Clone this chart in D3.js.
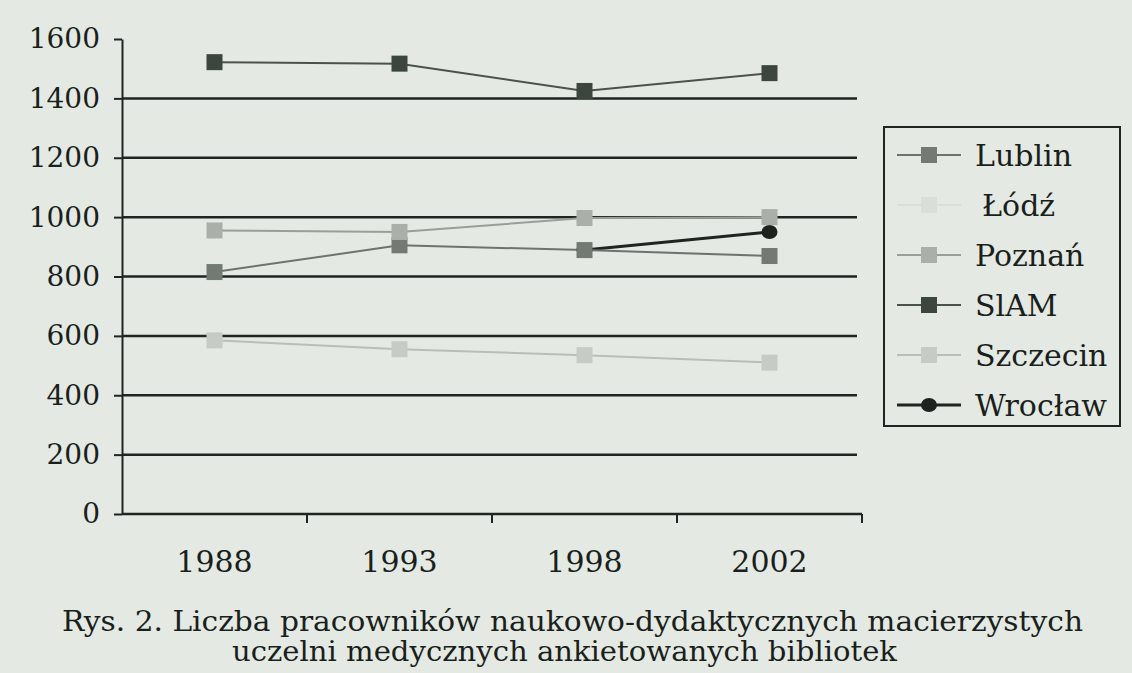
<!DOCTYPE html>
<html>
<head>
<meta charset="utf-8">
<title>Rys. 2</title>
<style>
  body { margin: 0; background: #e4e9e3; }
  svg { display: block; }
</style>
</head>
<body>
<script src="https://d3js.org/d3.v7.min.js"></script>
<script>
// data
var years = ["1988", "1993", "1998", "2002"];
var yTicks = [0, 200, 400, 600, 800, 1000, 1200, 1400, 1600];
var lublin   = [815, 905, 889, 869];
var lodz     = [null, null, null, null];
var poznan   = [955, 950, 997, 1000];
var slam     = [1522, 1517, 1425, 1485];
var szczecin = [585, 555, 535, 510];
var wroclaw  = [null, null, 889, 950];
var caption1 = "Rys. 2. Liczba pracowników naukowo-dydaktycznych macierzystych";
var caption2 = "uczelni medycznych ankietowanych bibliotek";

var series = [
  {name: "Lublin",   values: lublin,   line: "#6d746e", fill: "#737a74", shape: "square", w: 2},
  {name: "Łódź",     values: lodz,     line: "#d9ded8", fill: "#d9ded8", shape: "square", w: 2},
  {name: "Poznań",   values: poznan,   line: "#999e98", fill: "#aaafa9", shape: "square", w: 2},
  {name: "SlAM",     values: slam,     line: "#4a524c", fill: "#3c463f", shape: "square", w: 2},
  {name: "Szczecin", values: szczecin, line: "#b9beb8", fill: "#c7cbc5", shape: "square", w: 2},
  {name: "Wrocław",  values: wroclaw,  line: "#1e2420", fill: "#1c221e", shape: "circle", w: 3}
];

var W = 1132, H = 673;
var font = "DejaVu Serif";
var ink = "#1f2622";

var svg = d3.select("body").append("svg").attr("width", W).attr("height", H);

var x = d3.scaleBand().domain(years).range([122, 862]).padding(0);
var y = d3.scaleLinear().domain([0, 1600]).range([514, 39]);

// horizontal grid lines
svg.append("g").selectAll("line")
  .data(yTicks.filter(function (d) { return d > 0 && d < 1600; }))
  .enter().append("line")
  .attr("x1", 122).attr("x2", 857)
  .attr("y1", function (d) { return y(d); }).attr("y2", function (d) { return y(d); })
  .attr("stroke", ink).attr("stroke-width", 2.5);

// y axis
var yAxis = svg.append("g").attr("transform", "translate(122,0)")
  .call(d3.axisLeft(y).tickValues(yTicks).tickFormat(d3.format("d"))
    .tickSize(8).tickSizeOuter(0).tickPadding(14));
yAxis.select(".domain").attr("stroke", ink).attr("stroke-width", 2);
yAxis.selectAll(".tick line").attr("stroke", ink).attr("stroke-width", 2);
yAxis.selectAll("text").attr("font-family", font).attr("font-size", 28).attr("fill", "#1a1f1c");

// x axis: baseline, boundary ticks, labels at band centres
svg.append("line").attr("x1", 122).attr("x2", 862).attr("y1", y(0)).attr("y2", y(0))
  .attr("stroke", ink).attr("stroke-width", 2.5);
svg.append("g").selectAll("line").data(years).enter().append("line")
  .attr("x1", function (d) { return x(d) + x.step(); })
  .attr("x2", function (d) { return x(d) + x.step(); })
  .attr("y1", y(0)).attr("y2", y(0) + 9)
  .attr("stroke", ink).attr("stroke-width", 2);
var xAxis = svg.append("g").attr("transform", "translate(0," + y(0) + ")")
  .call(d3.axisBottom(x).tickSize(0).tickPadding(37));
xAxis.select(".domain").remove();
xAxis.selectAll("text").attr("font-family", font).attr("font-size", 30).attr("fill", "#1a1f1c");

// series
var cx = function (i) { return x(years[i]) + x.bandwidth() / 2; };
var line = d3.line()
  .defined(function (d) { return d != null; })
  .x(function (d, i) { return cx(i); })
  .y(function (d) { return y(d); });

var order = [5, 0, 2, 3, 4];
order.forEach(function (k) {
  var s = series[k];
  svg.append("path").datum(s.values)
    .attr("d", line).attr("fill", "none")
    .attr("stroke", s.line).attr("stroke-width", s.w);
});
order.forEach(function (k) {
  var s = series[k];
  var pts = s.values.map(function (v, i) { return {v: v, i: i}; })
    .filter(function (p) { return p.v != null; });
  if (s.shape === "circle") {
    svg.append("g").selectAll("ellipse").data(pts).enter().append("ellipse")
      .attr("cx", function (p) { return cx(p.i); }).attr("cy", function (p) { return y(p.v); })
      .attr("rx", 8).attr("ry", 7).attr("fill", s.fill);
  } else {
    svg.append("g").selectAll("rect").data(pts).enter().append("rect")
      .attr("x", function (p) { return cx(p.i) - 8; }).attr("y", function (p) { return y(p.v) - 8; })
      .attr("width", 16).attr("height", 16).attr("fill", s.fill);
  }
});

// legend
var lg = svg.append("g");
lg.append("rect").attr("x", 884).attr("y", 127).attr("width", 236).attr("height", 299)
  .attr("fill", "none").attr("stroke", ink).attr("stroke-width", 2);
var items = lg.selectAll("g.item").data(series).enter().append("g")
  .attr("class", "item")
  .attr("transform", function (d, i) { return "translate(0," + (155 + i * 50) + ")"; });
items.append("line").attr("x1", 897).attr("x2", 961).attr("y1", 0).attr("y2", 0)
  .attr("stroke", function (d) { return d.line; }).attr("stroke-width", function (d) { return d.w; });
items.each(function (d) {
  var g = d3.select(this);
  if (d.shape === "circle") {
    g.append("ellipse").attr("cx", 929).attr("cy", 0).attr("rx", 8).attr("ry", 7).attr("fill", d.fill);
  } else {
    g.append("rect").attr("x", 921).attr("y", -8).attr("width", 16).attr("height", 16).attr("fill", d.fill);
  }
});
items.append("text")
  .attr("x", function (d) { return d.name === "Łódź" ? 982 : 975; })
  .attr("y", 0).attr("dy", "0.36em")
  .attr("font-family", font).attr("font-size", 30).attr("fill", "#1a1f1c")
  .text(function (d) { return d.name; });

// caption
svg.append("text").attr("x", 62).attr("y", 631)
  .attr("textLength", 1021).attr("lengthAdjust", "spacingAndGlyphs")
  .attr("font-family", font).attr("font-size", 27).attr("fill", "#1a1f1c").text(caption1);
svg.append("text").attr("x", 232).attr("y", 661)
  .attr("textLength", 665).attr("lengthAdjust", "spacingAndGlyphs")
  .attr("font-family", font).attr("font-size", 27).attr("fill", "#1a1f1c").text(caption2);
</script>
</body>
</html>
